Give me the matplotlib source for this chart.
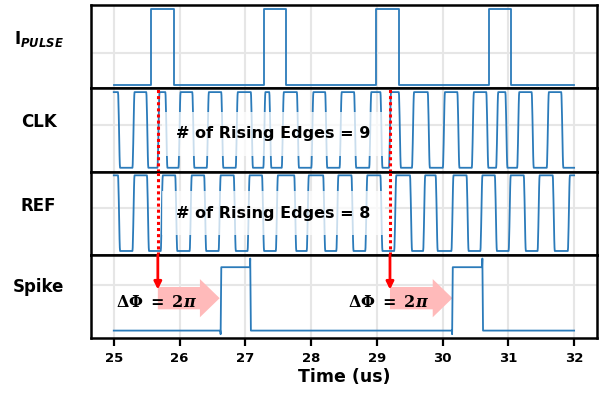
import numpy as np
import matplotlib
matplotlib.use("Agg")
from matplotlib import pyplot as plt

# time window (us)
t_start = 25.0
t_end = 32.0

# I_PULSE: rising / falling edge times (us)
pulse_rise = [25.57, 27.28, 28.99, 30.70]
pulse_fall = [25.91, 27.62, 29.33, 31.04]

# CLK edges, starts high, alternating fall / rise
clk_edges = [25.08, 25.30, 25.51, 25.68, 25.80, 26.00, 26.21, 26.43, 26.65,
             26.87, 27.10, 27.29, 27.38, 27.57, 27.80, 28.02, 28.23, 28.45,
             28.67, 28.90, 29.07, 29.20, 29.35, 29.55, 29.79, 30.02, 30.24,
             30.46, 30.68, 30.83, 30.97, 31.15, 31.37, 31.60, 31.82]

# REF edges, starts high, alternating fall / rise
ref_edges = [25.08, 25.30, 25.52, 25.73, 25.95, 26.17, 26.39, 26.61, 26.84,
             27.05, 27.27, 27.48, 27.76, 27.95, 28.20, 28.40, 28.63, 28.84,
             29.07, 29.28, 29.52, 29.72, 29.91, 30.15, 30.38, 30.59, 30.81,
             31.02, 31.25, 31.46, 31.69, 31.92]

# Spike output
spike_t = [25.0, 26.62, 26.625, 26.635, 27.07, 27.075, 27.085,
           30.14, 30.145, 30.155, 30.60, 30.605, 30.615, 32.0]
spike_v = [0.0, 0.0, -0.05, 0.88, 0.88, 1.0, 0.0,
           0.0, -0.05, 0.88, 0.88, 1.0, 0.0, 0.0]

# counting window markers and phase arrows
marker_t = [25.67, 29.20]
phase_end = [26.61, 30.15]
clk_count = 9
ref_count = 8

labels = [r'$\mathbf{I}_{\boldsymbol{PULSE}}$', 'CLK', 'REF', 'Spike']

line_color = '#2b7bba'


def square_wave(edges, t0, t1, tr=0.032):
    # smoothstep shaped edges so the corners look rounded like a real clock
    s = np.linspace(0, 1, 9)
    shape = s * s * (3 - 2 * s)
    t, v = [t0], [1.0]
    level = 1.0
    for e in edges:
        t += list(e - tr / 2 + s * tr)
        v += list(level + (1.0 - 2 * level) * shape)
        level = 1.0 - level
    t.append(t1)
    v.append(level)
    return t, v


def pulse_wave(rises, falls, t0, t1):
    t, v = [t0], [0.0]
    for r, f in zip(rises, falls):
        t += [r, r, f, f]
        v += [0.0, 1.0, 1.0, 0.0]
    t.append(t1)
    v.append(0.0)
    return t, v


def main():
    fig, axes = plt.subplots(4, 1, sharex=True, figsize=(6.05, 3.93), dpi=100)
    fig.subplots_adjust(left=0.150, right=0.987, top=0.987, bottom=0.140, hspace=0)

    pt, pv = pulse_wave(pulse_rise, pulse_fall, t_start, t_end)
    ct, cv = square_wave(clk_edges, t_start, t_end)
    rt, rv = square_wave(ref_edges, t_start, t_end)

    series = [(pt, pv), (ct, cv), (rt, rv), (spike_t, spike_v)]
    grid_y = [0.42, 0.57, 0.57, 0.636]
    label_y = [0.59, 0.59, 0.59, 0.61]

    for ax, (t, v), gy, lab, ly in zip(axes, series, grid_y, labels, label_y):
        ax.plot(t, v, color=line_color, lw=1.3, solid_joinstyle='round', zorder=3)
        ax.set_xlim(24.65, 32.35)
        ax.set_yticks([gy])
        ax.grid(True, color='#e6e6e6', lw=1.5, zorder=0)
        ax.set_axisbelow(True)
        ax.tick_params(left=False, labelleft=False, bottom=False, labelbottom=False)
        for s in ax.spines.values():
            s.set_linewidth(1.8)
            s.set_color('black')
        ax.set_ylabel(lab, rotation=0, fontsize=12, fontweight='bold',
                      ha='center', va='center')
        ax.yaxis.set_label_coords(-0.103, ly)

    axes[3].set_ylim(-0.1025, 1.0525)

    bottom = axes[3]
    bottom.set_xticks(np.arange(25, 33, 1))
    bottom.tick_params(bottom=True, labelbottom=True, length=6, width=1.6,
                       pad=4, labelsize=9.5)
    for lbl in bottom.get_xticklabels():
        lbl.set_fontweight('bold')
    bottom.set_xlabel('Time (us)', fontsize=12.5, fontweight='bold', labelpad=2)

    # rising edge count text
    txt_x = 27.43
    axes[1].text(txt_x, 0.45, '# of Rising Edges = %d' % clk_count, fontsize=11.5,
                 fontweight='bold', ha='center', va='center', zorder=5,
                 bbox=dict(boxstyle='square,pad=0.9', fc='white', ec='none', alpha=0.75))
    axes[2].text(txt_x, 0.5, '# of Rising Edges = %d' % ref_count, fontsize=11.5,
                 fontweight='bold', ha='center', va='center', zorder=5,
                 bbox=dict(boxstyle='square,pad=0.9', fc='white', ec='none', alpha=0.75))

    # red dotted markers through CLK and REF, then arrow into Spike panel
    for t in marker_t:
        for ax in axes[1:3]:
            ax.axvline(t, color='red', lw=2.2, ls=(0, (1, 1)), zorder=6)
        bottom.annotate('', xy=(t, 0.57), xytext=(t, 1.0525),
                        arrowprops=dict(arrowstyle='-|>', color='red', lw=2,
                                        mutation_scale=11, shrinkA=0, shrinkB=0),
                        zorder=6)

    # phase arrows and text
    for t0, t1 in zip(marker_t, phase_end):
        bottom.arrow(t0, 0.45, t1 - t0, 0, width=0.31, head_width=0.53,
                     head_length=0.30, length_includes_head=True,
                     fc='#ffbaba', ec='none', zorder=2)
        bottom.text(t0 - 0.02, 0.39, r'$\mathbf{\Delta\Phi\ =\ 2}\boldsymbol{\pi}$',
                    fontsize=11.5, ha='center', va='center', zorder=5,
                    math_fontfamily='dejavuserif')

    fig.savefig('out.png', dpi=100)


if __name__ == '__main__':
    main()
